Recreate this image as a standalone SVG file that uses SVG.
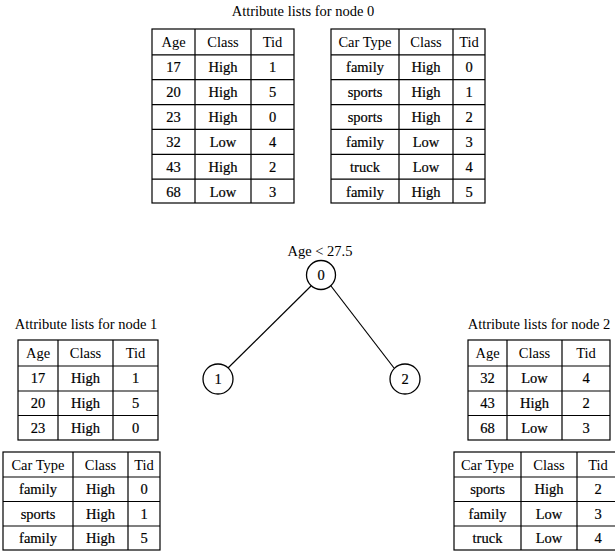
<svg xmlns="http://www.w3.org/2000/svg" width="615" height="552" viewBox="0 0 615 552">
<style>
  text { font-family: "Liberation Serif", "Times New Roman", serif; font-size: 14.5px; fill: #000; text-anchor: middle; }
  .title { font-size: 14.5px; }
  .d { stroke: #000; stroke-width: 0.2; }
  .grid { fill: none; stroke: #000; stroke-width: 1.2; }
  .edge { stroke: #000; stroke-width: 1.2; fill: none; }
  .node { fill: #fff; stroke: #000; stroke-width: 1.3; }
</style>
<rect width="615" height="552" fill="#fff"/>

<g id="lists-node0">
  <text class="title" x="303" y="16">Attribute lists for node 0</text>
  <g id="node0-age">
    <rect class="grid" x="152" y="29" width="142" height="174"/>
    <path class="grid" d="M195 29V203M251 29V203M152 54.9H294M152 79.7H294M152 104.6H294M152 129.4H294M152 154.3H294M152 179.1H294"/>
    <text x="173.5" y="47">Age</text><text x="223" y="47">Class</text><text x="272.5" y="47">Tid</text>
    <text class="d" x="173.5" y="72">17</text><text class="d" x="223" y="72">High</text><text class="d" x="272.5" y="72">1</text>
    <text class="d" x="173.5" y="97">20</text><text class="d" x="223" y="97">High</text><text class="d" x="272.5" y="97">5</text>
    <text class="d" x="173.5" y="122">23</text><text class="d" x="223" y="122">High</text><text class="d" x="272.5" y="122">0</text>
    <text class="d" x="173.5" y="147">32</text><text class="d" x="223" y="147">Low</text><text class="d" x="272.5" y="147">4</text>
    <text class="d" x="173.5" y="172">43</text><text class="d" x="223" y="172">High</text><text class="d" x="272.5" y="172">2</text>
    <text class="d" x="173.5" y="197">68</text><text class="d" x="223" y="197">Low</text><text class="d" x="272.5" y="197">3</text>
  </g>
  <g id="node0-cartype">
    <rect class="grid" x="331" y="29" width="154" height="174"/>
    <path class="grid" d="M399 29V203M453 29V203M331 54.9H485M331 79.7H485M331 104.6H485M331 129.4H485M331 154.3H485M331 179.1H485"/>
    <text x="365" y="47">Car Type</text><text x="426" y="47">Class</text><text x="469" y="47">Tid</text>
    <text class="d" x="365" y="72">family</text><text class="d" x="426" y="72">High</text><text class="d" x="469" y="72">0</text>
    <text class="d" x="365" y="97">sports</text><text class="d" x="426" y="97">High</text><text class="d" x="469" y="97">1</text>
    <text class="d" x="365" y="122">sports</text><text class="d" x="426" y="122">High</text><text class="d" x="469" y="122">2</text>
    <text class="d" x="365" y="147">family</text><text class="d" x="426" y="147">Low</text><text class="d" x="469" y="147">3</text>
    <text class="d" x="365" y="172">truck</text><text class="d" x="426" y="172">Low</text><text class="d" x="469" y="172">4</text>
    <text class="d" x="365" y="197">family</text><text class="d" x="426" y="197">High</text><text class="d" x="469" y="197">5</text>
  </g>
</g>

<g id="connectors">
  <line class="edge" x1="311" y1="286" x2="228" y2="368"/>
  <line class="edge" x1="331" y1="286" x2="394" y2="368"/>
</g>

<g id="node0">
  <text x="320" y="256">Age &lt; 27.5</text>
  <circle class="node" cx="321" cy="275" r="14.5"/>
  <text class="d" x="321" y="280">0</text>
</g>
<g id="node1">
  <circle class="node" cx="218" cy="379" r="15"/>
  <text class="d" x="218" y="384">1</text>
</g>
<g id="node2">
  <circle class="node" cx="405" cy="379" r="15"/>
  <text class="d" x="405" y="384">2</text>
</g>

<g id="lists-node1">
  <text class="title" x="86" y="329">Attribute lists for node 1</text>
  <g id="node1-age">
    <rect class="grid" x="18" y="340" width="140" height="100"/>
    <path class="grid" d="M58 340V440M113 340V440M18 366H158M18 391H158M18 415.5H158"/>
    <text x="38" y="358">Age</text><text x="85.5" y="358">Class</text><text x="135.5" y="358">Tid</text>
    <text class="d" x="38" y="383">17</text><text class="d" x="85.5" y="383">High</text><text class="d" x="135.5" y="383">1</text>
    <text class="d" x="38" y="408">20</text><text class="d" x="85.5" y="408">High</text><text class="d" x="135.5" y="408">5</text>
    <text class="d" x="38" y="433">23</text><text class="d" x="85.5" y="433">High</text><text class="d" x="135.5" y="433">0</text>
  </g>
  <g id="node1-cartype">
    <rect class="grid" x="3" y="452" width="157" height="98"/>
    <path class="grid" d="M73 452V550M128 452V550M3 477H160M3 501.5H160M3 526H160"/>
    <text x="38" y="470">Car Type</text><text x="100.5" y="470">Class</text><text x="144" y="470">Tid</text>
    <text class="d" x="38" y="494">family</text><text class="d" x="100.5" y="494">High</text><text class="d" x="144" y="494">0</text>
    <text class="d" x="38" y="519">sports</text><text class="d" x="100.5" y="519">High</text><text class="d" x="144" y="519">1</text>
    <text class="d" x="38" y="543">family</text><text class="d" x="100.5" y="543">High</text><text class="d" x="144" y="543">5</text>
  </g>
</g>

<g id="lists-node2">
  <text class="title" x="539" y="329">Attribute lists for node 2</text>
  <g id="node2-age">
    <rect class="grid" x="468" y="340" width="142" height="100"/>
    <path class="grid" d="M507 340V440M562 340V440M468 366H610M468 391H610M468 415.5H610"/>
    <text x="487.5" y="358">Age</text><text x="534.5" y="358">Class</text><text x="586" y="358">Tid</text>
    <text class="d" x="487.5" y="383">32</text><text class="d" x="534.5" y="383">Low</text><text class="d" x="586" y="383">4</text>
    <text class="d" x="487.5" y="408">43</text><text class="d" x="534.5" y="408">High</text><text class="d" x="586" y="408">2</text>
    <text class="d" x="487.5" y="433">68</text><text class="d" x="534.5" y="433">Low</text><text class="d" x="586" y="433">3</text>
  </g>
  <g id="node2-cartype">
    <rect class="grid" x="454" y="452" width="170" height="98"/>
    <path class="grid" d="M521 452V550M577 452V550M454 477H615M454 501.5H615M454 526H615"/>
    <text x="487.5" y="470">Car Type</text><text x="549" y="470">Class</text><text x="598" y="470">Tid</text>
    <text class="d" x="487.5" y="494">sports</text><text class="d" x="549" y="494">High</text><text class="d" x="598" y="494">2</text>
    <text class="d" x="487.5" y="519">family</text><text class="d" x="549" y="519">Low</text><text class="d" x="598" y="519">3</text>
    <text class="d" x="487.5" y="543">truck</text><text class="d" x="549" y="543">Low</text><text class="d" x="598" y="543">4</text>
  </g>
</g>
</svg>
